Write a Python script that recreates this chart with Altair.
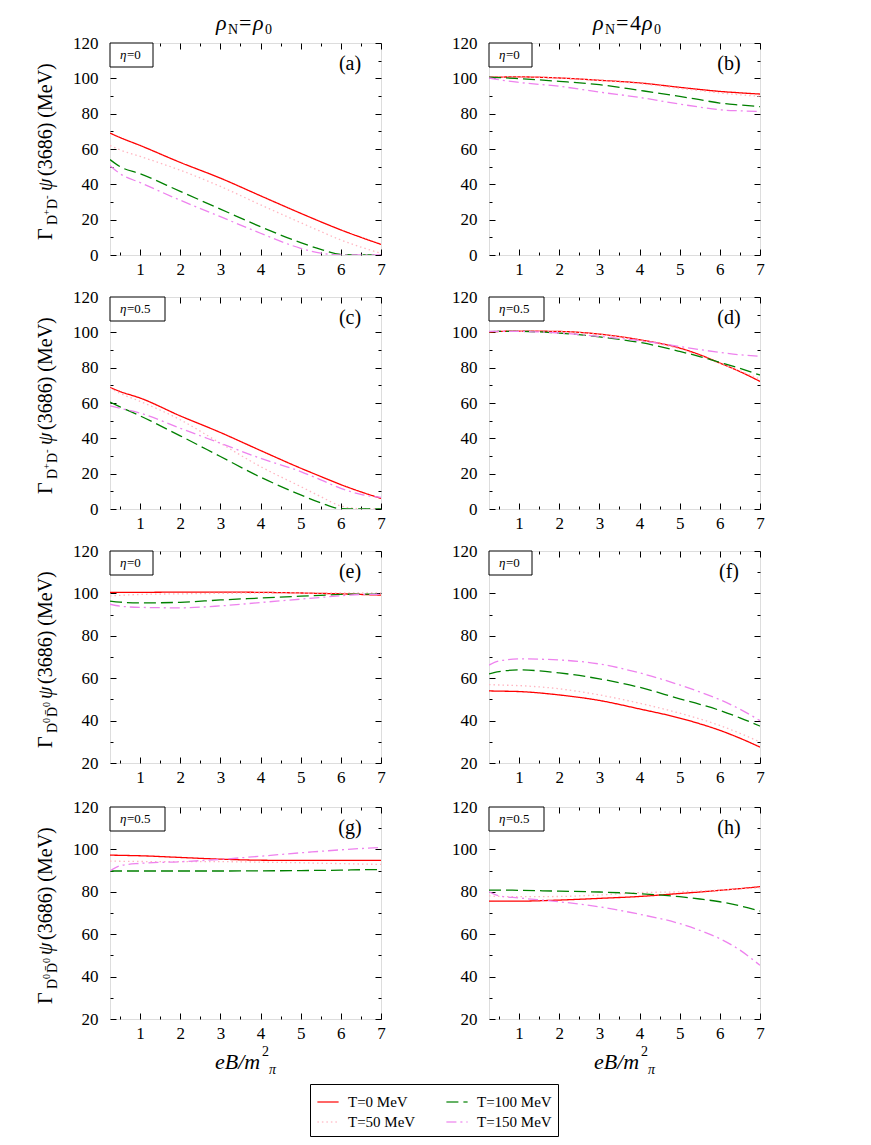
import altair as alt
import pandas as pd

# ---------------- data ----------------
XS = [0.25, 0.5, 1, 2, 3, 4, 5, 5.5, 6, 6.5, 7]
SERIES = ["T=0 MeV", "T=50 MeV", "T=100 MeV", "T=150 MeV"]

# (a) D+D-, rho0, eta=0
A_T0 = [69, 66.5, 62, 52.4, 43.5, 33.5, 23.6, 18.8, 14.2, 10, 6]
A_T50 = [62, 59.5, 55.8, 48, 38.8, 28.4, 18.3, 13.3, 8.5, 4.5, 1]
A_T100 = [54, 50, 46, 36, 26, 16, 7, 3.2, 0.3, 0, 0]
A_T150 = [50.6, 46, 41, 31, 21.7, 12.3, 3.8, 1, 0, 0, 0]
# (b) D+D-, 4rho0, eta=0
B_T0 = [100.6, 100.7, 100.8, 100.2, 98.9, 97.4, 94.9, 93.7, 92.6, 91.8, 91.1]
B_T50 = [100.6, 100.7, 100.8, 100.2, 98.8, 97.0, 94.3, 93.0, 91.7, 90.7, 89.8]
B_T100 = [100.6, 100.4, 99.8, 98.3, 96.4, 93.2, 89.8, 87.9, 86, 84.9, 84]
B_T150 = [100.2, 99.2, 97.7, 95.5, 92.2, 89.2, 85.4, 83.7, 82.2, 81.6, 81.3]
# (c) D+D-, rho0, eta=0.5
C_T0 = [68.8, 66.5, 62.8, 52.7, 43.3, 33.1, 23.1, 18.4, 13.8, 9.7, 6]
C_T50 = [68.4, 65.5, 60.9, 50.5, 37.2, 24, 12.7, 7, 1.7, 0.2, 0.2]
C_T100 = [60.5, 57.8, 52.7, 41.4, 29.7, 18, 8, 3.5, 0.2, 0, 0]
C_T150 = [58.4, 57, 54.3, 45.7, 37.2, 28.7, 21.2, 16.5, 11.7, 8.3, 6.6]
# (d) D+D-, 4rho0, eta=0.5
D_T0 = [100, 100.5, 100.7, 100.5, 99, 95.8, 91.1, 87.3, 82.6, 77.8, 72.2]
D_T50 = [100.4, 100.6, 100.7, 100.4, 98.8, 95.5, 90.6, 86.8, 82.4, 78.2, 73.5]
D_T100 = [100.4, 100.5, 100.5, 99.6, 97.4, 94.3, 89.2, 86.3, 83, 79.6, 75.8]
D_T150 = [100.5, 100.5, 100.5, 99.6, 97.7, 95.3, 92, 90.2, 88.7, 87.3, 86.4]
# (e) D0D0bar, rho0, eta=0
E_T0 = [100.5, 100.5, 100.5, 100.6, 100.6, 100.5, 100.2, 100, 99.8, 99.5, 99.2]
E_T50 = [98.8, 99.1, 99.5, 99.8, 100, 100.2, 100.2, 100.2, 100.2, 100.2, 100.2]
E_T100 = [96.4, 95.9, 95.5, 95.8, 96.9, 97.8, 98.7, 99.1, 99.5, 99.7, 99.7]
E_T150 = [94.9, 94, 93.4, 93.2, 94.1, 95.7, 97.3, 98.1, 98.9, 99.5, 99.5]
# (f) D0D0bar, 4rho0, eta=0
F_T0 = [54, 53.9, 53.7, 52.1, 49.5, 45.5, 41.2, 38.5, 35.4, 31.7, 27.5]
F_T50 = [57, 56.8, 56.5, 55, 52.1, 48.2, 43.5, 40.8, 37.7, 34, 29.9]
F_T100 = [62, 63.1, 63.9, 62.5, 59.7, 55.7, 50.3, 47.7, 44.8, 41.3, 37.4]
F_T150 = [66.2, 68.1, 69.1, 68.6, 66.7, 62.5, 56.8, 53.5, 49.9, 45.4, 40]
# (g) D0D0bar, rho0, eta=0.5
G_T0 = [97.3, 97.2, 97, 96.2, 95.4, 94.9, 94.8, 94.8, 94.8, 94.8, 94.8]
G_T50 = [94.5, 94.4, 94.3, 94.2, 94.2, 94, 93.7, 93.5, 93.3, 93.1, 92.9]
G_T100 = [89.8, 89.8, 89.8, 89.8, 89.8, 89.9, 90, 90.1, 90.2, 90.4, 90.5]
G_T150 = [89.8, 92.3, 93.4, 94.2, 95.3, 96.8, 98.4, 99.1, 99.8, 100.4, 100.9]
# (h) D0D0bar, 4rho0, eta=0.5
H_T0 = [75.6, 75.6, 75.6, 76.1, 76.9, 77.8, 79.2, 79.9, 80.7, 81.5, 82.4]
H_T50 = [78.1, 77.8, 77.7, 77.8, 78.5, 79.6, 80, 80.4, 80.8, 81.3, 81.9]
H_T100 = [80.8, 80.8, 80.7, 80.3, 79.9, 79.1, 77.7, 76.6, 75.3, 73.4, 70.9]
H_T150 = [80, 78.1, 77.1, 75.3, 72.9, 69.4, 65, 61.8, 57.9, 52.5, 45.3]

X_DOMAIN = [0.25, 7]
X_MAJOR = [1, 2, 3, 4, 5, 6, 7]
X_MINOR = [0.5, 1.5, 2.5, 3.5, 4.5, 5.5, 6.5]

# ---------------- styling ----------------
FONT = "Liberation Serif"
COLORS = {"T=0 MeV": "#ff0000", "T=50 MeV": "#ffb6c1",
          "T=100 MeV": "#008000", "T=150 MeV": "#ee82ee"}
DASHES = {"T=0 MeV": [1, 0], "T=50 MeV": [1.5, 3],
          "T=100 MeV": [12, 5], "T=150 MeV": [10, 4, 2, 4]}
W, H = 271, 212

LEG = alt.Legend(
    title=None, orient="none", legendX=200, legendY=1041, columns=2,
    symbolType="stroke", symbolSize=450, symbolStrokeWidth=2, symbolOpacity=0.6,
    labelFont=FONT, labelFontSize=15, labelColor="black",
    strokeColor="black", fillColor="white", padding=6,
    columnPadding=26, rowPadding=0, labelOffset=8,
)

ONE = pd.DataFrame({"k": [0]})


def axis(orient, values, size, labels, padding=0):
    return alt.Axis(orient=orient, values=values, tickSize=size, offset=-size,
                    domain=False, grid=False, labels=labels, title=None,
                    labelFont=FONT, labelFontSize=17, labelPadding=padding,
                    labelColor="black", tickColor="black", tickWidth=1,
                    labelFlush=False, labelOverlap=False)


def txt(text, x, y, size, italic=False, angle=None, align="left",
        baseline="alphabetic"):
    kw = dict(text=text, font=FONT, fontSize=size, align=align,
              baseline=baseline, color="black")
    if italic:
        kw["fontStyle"] = "italic"
    if angle is not None:
        kw["angle"] = angle
    return alt.Chart(ONE).mark_text(**kw).encode(x=alt.value(x), y=alt.value(y))


def ytitle(neutral):
    parts = [txt("Γ", -58, 197, 20, angle=270)]
    if neutral:
        parts += [txt("D", -53, 182, 14, angle=270),
                  txt("0", -60, 172, 10, angle=270),
                  txt("D\u0304", -53, 166, 14, angle=270),
                  txt("0", -60, 156, 10, angle=270)]
    else:
        parts += [txt("D", -53, 182, 14, angle=270),
                  txt("+", -60, 172, 10, angle=270),
                  txt("D", -53, 166, 14, angle=270),
                  txt("-", -60, 156, 11, angle=270)]
    parts += [txt("ψ", -58, 148, 20, italic=True, angle=270),
              txt("(3686) (MeV)", -58, 133, 20, angle=270)]
    return parts


def toptitle(four):
    if four:
        return [txt("ρ", 104, -13, 22, italic=True), txt("N", 116, -9, 14),
                txt("=", 127, -13, 22), txt("4", 141, -13, 22),
                txt("ρ", 153, -13, 22, italic=True), txt("0", 165, -9, 14)]
    return [txt("ρ", 106, -13, 22, italic=True), txt("N", 118, -9, 14),
            txt("=", 129, -13, 22), txt("ρ", 143, -13, 22, italic=True),
            txt("0", 155, -9, 14)]


def xtitle():
    return [txt("eB/m", 105, H + 50, 22, italic=True),
            txt("2", 152, H + 37, 14),
            txt("π", 159, H + 55, 14, italic=True)]


def panel(series, ylo, label, eta, left=False, top=None, bottom=False,
          neutral=False):
    rows = []
    for name, vals in zip(SERIES, series):
        for x, y in zip(XS, vals):
            rows.append({"x": x, "y": y, "T": name})
    df = pd.DataFrame(rows)
    ymaj = list(range(ylo, 121, 20))
    ymin = list(range(ylo + 10, 120, 20))
    xs = alt.Scale(domain=X_DOMAIN, nice=False, zero=False)
    ys = alt.Scale(domain=[ylo, 120], nice=False, zero=False)
    base = alt.Chart(df)
    lines = base.mark_line(strokeWidth=1.3, interpolate="monotone", clip=True).encode(
        x=alt.X("x:Q", scale=xs, axis=axis("bottom", X_MAJOR, 6, True, 6)),
        y=alt.Y("y:Q", scale=ys, axis=axis("left", ymaj, 6, True, 12)),
        color=alt.Color("T:N", scale=alt.Scale(
            domain=SERIES, range=[COLORS[s] for s in SERIES]), legend=LEG),
        strokeDash=alt.StrokeDash("T:N", scale=alt.Scale(
            domain=SERIES, range=[DASHES[s] for s in SERIES]), legend=LEG),
    )

    def ghost(xax, yax):
        return base.mark_line(strokeOpacity=0).encode(
            x=alt.X("x:Q", scale=xs, axis=xax),
            y=alt.Y("y:Q", scale=ys, axis=yax), detail="T:N")

    g2 = ghost(axis("bottom", X_MINOR, 3, False), axis("left", ymin, 3, False))
    g3 = ghost(axis("top", X_MAJOR, 6, False), axis("right", ymaj, 6, False))
    g4 = ghost(axis("top", X_MINOR, 3, False), axis("right", ymin, 3, False))

    bw = 43 if eta == "0" else 55
    box = alt.Chart(ONE).mark_rect(fill="white", stroke="black", strokeWidth=1).encode(
        x=alt.value(0), x2=alt.value(bw), y=alt.value(0), y2=alt.value(24))
    layers = [lines, g2, g3, g4, box,
              txt("η", 10, 16, 13, italic=True),
              txt("=" + eta, 17, 16, 13),
              txt("(" + label + ")", 240, 21, 20, align="center", baseline="middle")]
    if left:
        layers += ytitle(neutral)
    if top is not None:
        layers += toptitle(top)
    if bottom:
        layers += xtitle()
    return alt.layer(*layers).resolve_scale(x="independent", y="independent").properties(
        width=W, height=H)


pa = panel([A_T0, A_T50, A_T100, A_T150], 0, "a", "0", left=True, top=False)
pb = panel([B_T0, B_T50, B_T100, B_T150], 0, "b", "0", top=True)
pc = panel([C_T0, C_T50, C_T100, C_T150], 0, "c", "0.5", left=True)
pd_ = panel([D_T0, D_T50, D_T100, D_T150], 0, "d", "0.5")
pe = panel([E_T0, E_T50, E_T100, E_T150], 20, "e", "0", left=True, neutral=True)
pf = panel([F_T0, F_T50, F_T100, F_T150], 20, "f", "0")
pg = panel([G_T0, G_T50, G_T100, G_T150], 20, "g", "0.5", left=True, bottom=True,
           neutral=True)
ph = panel([H_T0, H_T50, H_T100, H_T150], 20, "h", "0.5", bottom=True)

SP_COL = 65
r1 = alt.hconcat(pa, pb, spacing=SP_COL)
r2 = alt.hconcat(pc, pd_, spacing=SP_COL)
r3 = alt.hconcat(pe, pf, spacing=SP_COL)
r4 = alt.hconcat(pg, ph, spacing=SP_COL)

chart = alt.vconcat(alt.vconcat(r1, r2, r3, spacing=9), r4, spacing=11).properties(
    padding={"left": 27, "top": 3, "right": 5, "bottom": 5}
).configure_view(stroke="black", strokeWidth=1.5).configure(background="white")

chart.save("out.html", embed_options={"renderer": "svg", "actions": False})
